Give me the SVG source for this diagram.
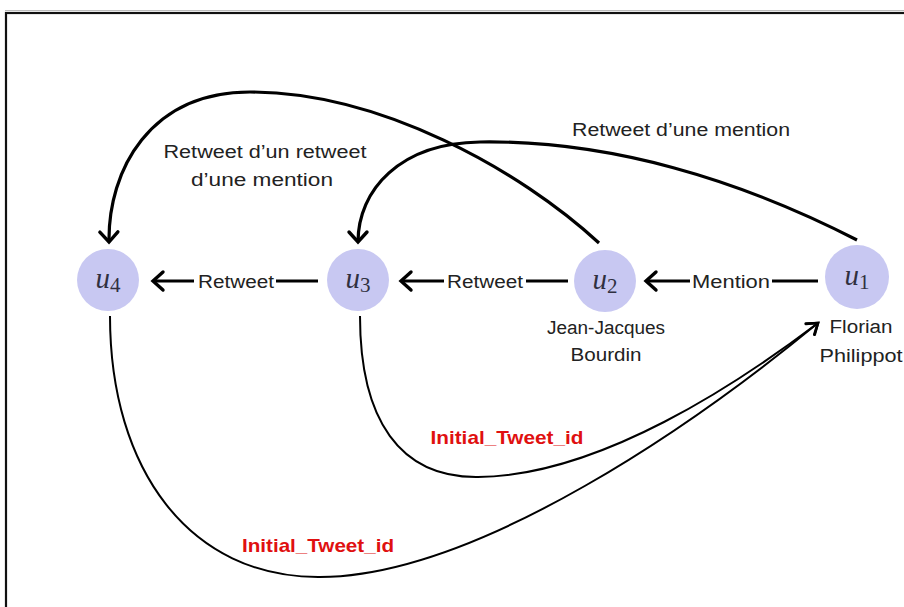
<svg xmlns="http://www.w3.org/2000/svg" width="904" height="607" viewBox="0 0 904 607">
<style>
.node{fill:#c8c8f2}
.nl{font-family:"Liberation Serif",serif;fill:#303040}
.u{font-style:italic;font-size:29px}
.sub{font-size:21px}
.lbl{font-family:"Liberation Sans",Arial,sans-serif;font-size:18px;fill:#222}
.red{font-family:"Liberation Sans",Arial,sans-serif;font-size:19px;font-weight:bold;fill:#e01010}
.e{fill:none;stroke:#000;stroke-width:3.2}
.t{fill:none;stroke:#000;stroke-width:2}
</style>
<defs>
<marker id="ah" markerUnits="userSpaceOnUse" markerWidth="30" markerHeight="30" viewBox="-15 -15 30 30" refX="0" refY="0" orient="auto">
<path d="M-10,-9 L0,0 L-10,9" fill="none" stroke="#000" stroke-width="3.4" stroke-linecap="round" stroke-linejoin="miter"/>
</marker>
<marker id="ah2" markerUnits="userSpaceOnUse" markerWidth="30" markerHeight="30" viewBox="-15 -15 30 30" refX="0" refY="0" orient="auto">
<path d="M-10,-7 L0,0 L-10,7" fill="none" stroke="#000" stroke-width="2.6" stroke-linecap="round"/>
</marker>
</defs>
<rect x="0" y="0" width="904" height="607" fill="#fff"/>
<rect x="6" y="13" width="930" height="630" fill="none" stroke="#111" stroke-width="2.2"/>
<line x1="5" y1="10.5" x2="904" y2="10.5" stroke="#bbb" stroke-width="1"/>

<g id="connectors">
<path class="e" d="M318,281 L153,281" marker-end="url(#ah)"/>
<path class="e" d="M568,281 L401,281" marker-end="url(#ah)"/>
<path class="e" d="M818,281 L646,281" marker-end="url(#ah)"/>
<path class="e" d="M599,243 C520,170 380,92 250,92 C150,92 108,170 109,242" marker-end="url(#ah)"/>
<path class="e" d="M857,240 C740,180 610,140 480,142 C400,143 358,190 358,242" marker-end="url(#ah)"/>
<path class="t" d="M110,316 C110,470 190,578 320,577 C480,576 700,420 818,323" marker-end="url(#ah2)"/>
<path class="t" d="M360,316 C360,420 400,478 478,477 C600,476 740,382 818,323" marker-end="url(#ah2)"/>
<rect x="194" y="270" width="82" height="22" fill="#fff"/>
<rect x="444" y="270" width="82" height="22" fill="#fff"/>
<rect x="690" y="270" width="82" height="22" fill="#fff"/>
<text class="lbl" x="236" y="287.5" text-anchor="middle" textLength="76" lengthAdjust="spacingAndGlyphs">Retweet</text>
<text class="lbl" x="485" y="287.5" text-anchor="middle" textLength="76" lengthAdjust="spacingAndGlyphs">Retweet</text>
<text class="lbl" x="731" y="287.5" text-anchor="middle" textLength="78" lengthAdjust="spacingAndGlyphs">Mention</text>
<text class="lbl" x="265" y="158" text-anchor="middle" textLength="203" lengthAdjust="spacingAndGlyphs">Retweet d’un retweet</text>
<text class="lbl" x="262" y="186" text-anchor="middle" textLength="142" lengthAdjust="spacingAndGlyphs">d’une mention</text>
<text class="lbl" x="681" y="136" text-anchor="middle" textLength="218" lengthAdjust="spacingAndGlyphs">Retweet d’une mention</text>
<text class="red" x="507" y="444" text-anchor="middle" textLength="153" lengthAdjust="spacingAndGlyphs">Initial_Tweet_id</text>
<text class="red" x="318" y="552" text-anchor="middle" textLength="152" lengthAdjust="spacingAndGlyphs">Initial_Tweet_id</text>
</g>

<g id="u4">
<circle class="node" cx="108" cy="280" r="31"/>
<text class="nl" x="108" y="288" text-anchor="middle"><tspan class="u">u</tspan><tspan class="sub" dy="4">4</tspan></text>
</g>
<g id="u3">
<circle class="node" cx="358" cy="280" r="31"/>
<text class="nl" x="358" y="288" text-anchor="middle"><tspan class="u">u</tspan><tspan class="sub" dy="4">3</tspan></text>
</g>
<g id="u2">
<circle class="node" cx="605" cy="281" r="31"/>
<text class="nl" x="605" y="289" text-anchor="middle"><tspan class="u">u</tspan><tspan class="sub" dy="4">2</tspan></text>
<text class="lbl" x="606" y="334" text-anchor="middle" textLength="118" lengthAdjust="spacingAndGlyphs">Jean-Jacques</text>
<text class="lbl" x="606" y="361" text-anchor="middle" textLength="71" lengthAdjust="spacingAndGlyphs">Bourdin</text>
</g>
<g id="u1">
<circle class="node" cx="857" cy="277" r="32"/>
<text class="nl" x="857" y="285" text-anchor="middle"><tspan class="u">u</tspan><tspan class="sub" dy="4">1</tspan></text>
<text class="lbl" x="861" y="333" text-anchor="middle" textLength="63" lengthAdjust="spacingAndGlyphs">Florian</text>
<text class="lbl" x="861" y="362" text-anchor="middle" textLength="83" lengthAdjust="spacingAndGlyphs">Philippot</text>
</g>
</svg>
